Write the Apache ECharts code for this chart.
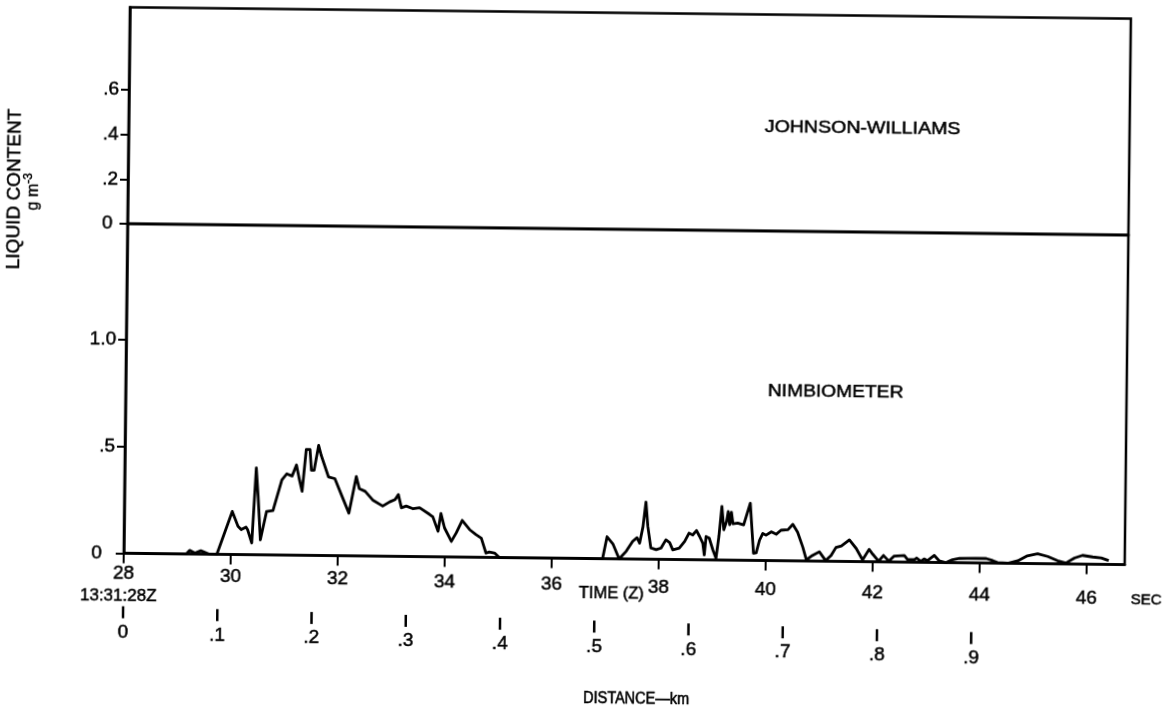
<!DOCTYPE html>
<html>
<head>
<meta charset="utf-8">
<script src="https://cdn.jsdelivr.net/npm/echarts@6/dist/echarts.min.js"></script>
<style>
  html, body { margin: 0; padding: 0; background: #fff; overflow: hidden; }
  /* the sheet sits slightly askew on the page */
  #chart { width: 1175px; height: 714px; transform: rotate(0.65deg); transform-origin: 50% 50%; }
</style>
</head>
<body>
<div id="chart"></div>
<script>
// Time axis (seconds past 13:31:00Z)
const timeMin = 28;
const timeMax = 46.71;
const timeTicks = [28, 30, 32, 34, 36, 38, 40, 42, 44, 46];

// Distance along track (km), same origin as the time axis
const distMax = 1.062;
const distTicks = [0, 0.1, 0.2, 0.3, 0.4, 0.5, 0.6, 0.7, 0.8, 0.9];

// Liquid content axes (g m^-3)
const jwTicks = [0, 0.2, 0.4, 0.6];
const nimbTicks = [0, 0.5, 1.0];

// Johnson-Williams probe: no liquid recorded on this pass
const jwTime = [28, 46.71];
const jwValue = [0, 0];

// Nimbiometer trace
const nimbTime = [
  28.00, 29.17, 29.23, 29.33, 29.44, 29.60, 29.74, 30.02, 30.13, 30.19,
  30.28, 30.31, 30.39, 30.46, 30.50, 30.55, 30.66, 30.78, 30.94, 31.03,
  31.13, 31.21, 31.27, 31.32, 31.39, 31.46, 31.49, 31.54, 31.62, 31.67,
  31.81, 31.93, 32.06, 32.20, 32.33, 32.39, 32.50, 32.65, 32.83, 32.96,
  33.06, 33.12, 33.18, 33.27, 33.40, 33.52, 33.71, 33.77, 33.87, 33.92,
  33.99, 34.12, 34.21, 34.32, 34.46, 34.58, 34.68, 34.77, 34.83, 34.93,
  35.02, 36.95, 37.03, 37.14, 37.26, 37.39, 37.51, 37.59, 37.64, 37.70,
  37.75, 37.79, 37.85, 37.95, 38.04, 38.13, 38.20, 38.26, 38.38, 38.48,
  38.56, 38.63, 38.70, 38.76, 38.82, 38.85, 38.88, 38.94, 39.01, 39.07,
  39.12, 39.17, 39.21, 39.26, 39.29, 39.32, 39.35, 39.38, 39.47, 39.58,
  39.70, 39.77, 39.82, 39.88, 39.94, 40.00, 40.10, 40.19, 40.28, 40.41,
  40.50, 40.59, 40.69, 40.76, 40.87, 41.00, 41.12, 41.22, 41.31, 41.41,
  41.56, 41.69, 41.81, 41.93, 42.00, 42.11, 42.20, 42.30, 42.40, 42.59,
  42.65, 42.78, 42.82, 42.90, 42.96, 43.02, 43.15, 43.24, 43.37, 43.49,
  43.62, 43.93, 44.12, 44.24, 44.33, 44.52, 44.71, 44.89, 45.08, 45.27,
  45.45, 45.61, 45.77, 45.92, 46.11, 46.27, 46.41
];
const nimbValue = [
  0.000, 0.000, 0.017, 0.005, 0.016, 0.000, 0.000, 0.202, 0.132, 0.117,
  0.129, 0.117, 0.055, 0.407, 0.274, 0.070, 0.203, 0.208, 0.352, 0.381,
  0.371, 0.423, 0.352, 0.300, 0.496, 0.496, 0.399, 0.399, 0.516, 0.470,
  0.369, 0.361, 0.283, 0.200, 0.372, 0.315, 0.303, 0.261, 0.235, 0.255,
  0.266, 0.290, 0.228, 0.236, 0.224, 0.229, 0.198, 0.187, 0.120, 0.203,
  0.136, 0.073, 0.113, 0.172, 0.129, 0.106, 0.090, 0.020, 0.025, 0.021,
  0.000, 0.000, 0.103, 0.070, 0.000, 0.036, 0.083, 0.100, 0.075, 0.153,
  0.268, 0.154, 0.053, 0.045, 0.053, 0.092, 0.079, 0.045, 0.053, 0.085,
  0.124, 0.116, 0.137, 0.109, 0.078, 0.023, 0.109, 0.102, 0.047, 0.008,
  0.110, 0.251, 0.142, 0.181, 0.228, 0.166, 0.224, 0.171, 0.174, 0.166,
  0.268, 0.033, 0.036, 0.095, 0.127, 0.119, 0.135, 0.124, 0.143, 0.146,
  0.171, 0.135, 0.065, 0.005, 0.026, 0.044, 0.003, 0.027, 0.065, 0.072,
  0.101, 0.061, 0.008, 0.058, 0.035, 0.003, 0.030, 0.004, 0.028, 0.031,
  0.012, 0.012, 0.020, 0.004, 0.016, 0.008, 0.033, 0.008, 0.000, 0.014,
  0.020, 0.022, 0.021, 0.012, 0.003, 0.000, 0.012, 0.036, 0.046, 0.034,
  0.015, 0.004, 0.028, 0.041, 0.034, 0.030, 0.018
];

const FONT = '"Liberation Sans", Arial, Helvetica, sans-serif';
const INK = '#000';
const TICK_FS = 19;
// a hairline outline gives the lettering the weight of drafting ink
const inked = { color: INK, textBorderColor: INK, textBorderWidth: 0.5 };
const tickFont = Object.assign({ fontFamily: FONT, fontSize: TICK_FS }, inked);

// hand-lettered tick labels drift downward to the right a little
const timeRich = {};
timeTicks.forEach((v, i) => {
  timeRich['t' + i] = Object.assign({
    padding: [Math.round((v - timeTicks[0]) * 0.78), 0, 0, 0]
  }, tickFont);
});
const distRich = {
  bar: { width: 2.5, height: 12, backgroundColor: INK, align: 'center' },
  dn: Object.assign({ lineHeight: 28, align: 'center' }, tickFont)
};
distTicks.forEach((v, i) => {
  distRich['ds' + i] = { fontSize: 2, lineHeight: 2 + i * 1.8, align: 'center' };
});

// zero labels on the value axes sit a little further out
const yRich = {
  v: Object.assign({}, tickFont),
  z1: Object.assign({ padding: [0, 5, 0, 0] }, tickFont),
  z2: Object.assign({ padding: [0, 12, 0, 0] }, tickFont)
};

function fracLabel(v) {
  if (v === 0) return '0';
  if (v >= 1) return v.toFixed(1);
  return '.' + Math.round(v * 10);
}

function note(text, x, y, size, extra) {
  return Object.assign({
    type: 'text', x: x, y: y,
    style: { text: text, fill: INK, stroke: INK, lineWidth: 0.5,
             font: size + 'px ' + FONT, align: 'center', verticalAlign: 'middle' }
  }, extra || {});
}

const chart = echarts.init(document.getElementById('chart'), null, { renderer: 'canvas' });

const frame = { show: true, borderColor: INK, borderWidth: 2.5, backgroundColor: 'transparent' };
const axisLine2 = { show: true, lineStyle: { color: INK, width: 2.5 } };

chart.setOption({
  backgroundColor: '#fff',
  animation: false,
  grid: [
    Object.assign({ left: 126, width: 1001, top: 12.5, height: 216.5 }, frame),
    Object.assign({ left: 126, width: 1001, top: 229, height: 329.5 }, frame)
  ],
  xAxis: [
    { type: 'value', gridIndex: 0, min: timeMin, max: timeMax, interval: 2, show: false },
    {
      type: 'value', gridIndex: 1, min: timeMin, max: timeMax, interval: 2,
      axisLine: axisLine2,
      splitLine: { show: false },
      axisTick: { show: true, inside: false, length: 10, customValues: timeTicks,
                  lineStyle: { color: INK, width: 2 } },
      axisLabel: {
        customValues: timeTicks, margin: 11, color: INK,
        fontFamily: FONT, fontSize: TICK_FS,
        formatter: (v) => '{t' + timeTicks.indexOf(Math.round(v)) + '|' + Math.round(v) + '}',
        rich: timeRich
      }
    },
    {
      type: 'value', gridIndex: 1, min: 0, max: distMax, interval: 0.1,
      position: 'bottom', offset: 0,
      axisLine: { show: false },
      axisTick: { show: false },
      splitLine: { show: false },
      axisLabel: {
        customValues: distTicks, margin: 51, color: INK,
        fontFamily: FONT, fontSize: TICK_FS,
        formatter: (v) => {
          const i = Math.round(v * 10);
          return '{ds' + i + '| }\n{bar|}\n{dn|' + fracLabel(distTicks[i]) + '}';
        },
        rich: distRich
      }
    }
  ],
  yAxis: [
    {
      type: 'value', gridIndex: 0, min: 0, max: 0.97, interval: 0.2,
      axisLine: axisLine2, splitLine: { show: false },
      axisTick: { show: true, length: 8, customValues: jwTicks, lineStyle: { color: INK, width: 2 } },
      axisLabel: { customValues: jwTicks, margin: 10, color: INK, fontFamily: FONT, fontSize: TICK_FS,
                   formatter: (v) => v === 0 ? '{z1|0}' : '{v|' + fracLabel(v) + '}', rich: yRich }
    },
    {
      type: 'value', gridIndex: 1, min: 0, max: 1.545, interval: 0.5,
      axisLine: axisLine2, splitLine: { show: false },
      axisTick: { show: true, length: 8, customValues: nimbTicks, lineStyle: { color: INK, width: 2 } },
      axisLabel: { customValues: nimbTicks, margin: 10, color: INK, fontFamily: FONT, fontSize: TICK_FS,
                   formatter: (v) => v === 0 ? '{z2|0}' : '{v|' + fracLabel(v) + '}', rich: yRich }
    }
  ],
  series: [
    {
      name: 'JOHNSON-WILLIAMS', type: 'line', xAxisIndex: 0, yAxisIndex: 0,
      data: jwTime.map((t, i) => [t, jwValue[i]]),
      symbol: 'none', lineStyle: { color: INK, width: 2.5 }
    },
    {
      name: 'NIMBIOMETER', type: 'line', xAxisIndex: 1, yAxisIndex: 1,
      data: nimbTime.map((t, i) => [t, nimbValue[i]]),
      symbol: 'none', lineStyle: { color: INK, width: 2.8, join: 'round' }
    }
  ],
  graphic: [
    note('JOHNSON-WILLIAMS', 860, 125, 17, { scaleX: 1.15 }),
    note('NIMBIOMETER', 836, 389, 17, { scaleX: 1.13 }),
    note('LIQUID CONTENT', 12.6, 195.5, 19, { rotation: Math.PI / 2 }),
    { type: 'text', x: 32, y: 198, rotation: Math.PI / 2,
      style: {
        text: '{n|g m}{sup|-3}', fill: INK, align: 'center', verticalAlign: 'middle',
        rich: {
          n: { fontFamily: FONT, fontSize: 16, lineHeight: 22, fill: INK, stroke: INK, lineWidth: 0.4 },
          sup: { fontFamily: FONT, fontSize: 12, lineHeight: 13, verticalAlign: 'top', fill: INK, stroke: INK, lineWidth: 0.4 }
        }
      } },
    note('13:31:28Z', 121, 601, 17),
    note('TIME (Z)', 614, 593, 16.5),
    note('SEC', 1149, 594, 15),
    note('DISTANCE\u2014km', 640, 699, 14.5, { scaleY: 1.1 })
  ]
});
</script>
</body>
</html>
